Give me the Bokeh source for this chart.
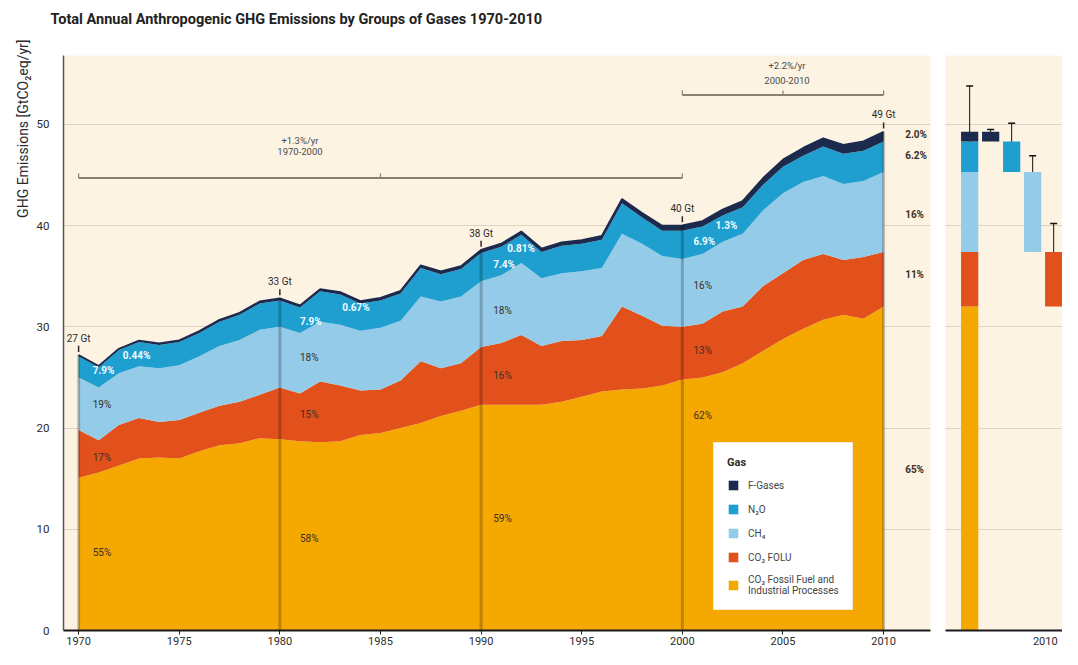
import math
from bokeh.plotting import figure
from bokeh.layouts import row
from bokeh.models import (ColumnDataSource, Legend, LegendItem, Range1d,
                          FixedTicker, Whisker, TeeHead, Title)
from bokeh.embed import file_html
from bokeh.resources import INLINE
from bokeh.core.properties import value

# ---------------- data (GtCO2eq/yr) ----------------
years = list(range(1970, 2011))
ff = [15.1, 15.6, 16.3, 17.0, 17.1, 17.0, 17.7, 18.3, 18.5, 19.0,
      18.9, 18.7, 18.6, 18.7, 19.3, 19.5, 20.0, 20.5, 21.2, 21.7,
      22.3, 22.3, 22.3, 22.3, 22.6, 23.1, 23.6, 23.8, 23.9, 24.2,
      24.8, 25.0, 25.5, 26.4, 27.6, 28.8, 29.8, 30.7, 31.2, 30.8, 32.0]
folu = [4.7, 3.2, 4.0, 4.0, 3.5, 3.8, 3.8, 3.9, 4.1, 4.3,
        5.1, 4.7, 6.0, 5.5, 4.4, 4.3, 4.7, 6.1, 4.7, 4.7,
        5.7, 6.1, 6.9, 5.8, 6.0, 5.6, 5.5, 8.2, 7.2, 5.9,
        5.2, 5.3, 6.0, 5.6, 6.4, 6.5, 6.8, 6.5, 5.4, 6.1, 5.4]
ch4 = [5.2, 5.2, 5.1, 5.1, 5.3, 5.4, 5.6, 5.9, 6.1, 6.4,
       6.0, 6.0, 5.9, 6.0, 5.9, 6.1, 5.9, 6.4, 6.6, 6.6,
       6.5, 6.7, 7.1, 6.7, 6.7, 6.8, 6.7, 7.2, 7.1, 6.9,
       6.7, 6.9, 6.9, 7.2, 7.5, 7.9, 7.7, 7.7, 7.5, 7.5, 7.9]
n2o = [2.1, 2.0, 2.3, 2.4, 2.3, 2.3, 2.3, 2.4, 2.5, 2.6,
       2.6, 2.5, 3.0, 3.0, 2.7, 2.7, 2.7, 2.8, 2.7, 2.7,
       2.8, 2.8, 2.8, 2.6, 2.7, 2.7, 2.8, 3.0, 2.6, 2.5,
       2.8, 2.7, 2.6, 2.6, 2.5, 2.6, 2.6, 2.9, 3.0, 3.0, 3.0]
fgas = [0.12, 0.13, 0.14, 0.15, 0.16, 0.17, 0.18, 0.19, 0.20, 0.21,
        0.22, 0.22, 0.23, 0.24, 0.25, 0.26, 0.27, 0.28, 0.29, 0.30,
        0.31, 0.32, 0.33, 0.34, 0.36, 0.38, 0.40, 0.43, 0.46, 0.49,
        0.52, 0.56, 0.60, 0.64, 0.68, 0.73, 0.78, 0.83, 0.88, 0.92, 0.98]

layer_keys = ["ff", "folu", "ch4", "n2o", "fgas"]
layer_names = ["CO\u2082 Fossil Fuel and\nIndustrial Processes", "CO\u2082 FOLU",
               "CH\u2084", "N\u2082O", "F-Gases"]

marker_years = [1970, 1980, 1990, 2000, 2010]
shares = {
    1970: ["55%", "17%", "19%", "7.9%", "0.44%"],
    1980: ["58%", "15%", "18%", "7.9%", "0.67%"],
    1990: ["59%", "16%", "18%", "7.4%", "0.81%"],
    2000: ["62%", "13%", "16%", "6.9%", "1.3%"],
    2010: ["65%", "11%", "16%", "6.2%", "2.0%"],
}
growth_labels = [("+1.3%/yr", "1970-2000", 1970, 2000),
                 ("+2.2%/yr", "2000-2010", 2000, 2010)]

# 2010 uncertainty bars (Gt)
unc_names = ["Total", "F-Gases", "N\u2082O", "CH\u2084", "CO\u2082 FOLU"]
unc_vals = [4.5, 0.2, 1.8, 1.6, 2.8]

# ---------------- styling ----------------
FONT = "Roboto"
C_FF, C_FOLU, C_CH4, C_N2O, C_F = "#f5a800", "#e2501b", "#93cbe9", "#1e9fd0", "#1c2a4e"
colors = [C_FF, C_FOLU, C_CH4, C_N2O, C_F]
BG = "#fdf3e3"
GRID = "#dcd3c2"
DARK = "#2b2b2b"
YMAX = 56.8

totals = [a + b + c + d + e for a, b, c, d, e in zip(ff, folu, ch4, n2o, fgas)]
src = ColumnDataSource(dict(year=years, ff=ff, folu=folu, ch4=ch4, n2o=n2o, fgas=fgas))

p = figure(width=937, height=649, x_range=Range1d(1969.25, 2012.33),
           y_range=Range1d(0, YMAX), output_backend="svg", toolbar_location=None,
           min_border_left=63, min_border_right=7, min_border_top=55,
           min_border_bottom=19, background_fill_color=BG,
           border_fill_color="white", outline_line_color=None)

# main title, with a blank spacer title between it and the frame
p.title.text = "Total Annual Anthropogenic GHG Emissions by Groups of Gases 1970-2010"
p.title.text_font = FONT
p.title.text_font_size = "14.5px"
p.title.text_font_style = "bold"
p.title.text_color = "#222222"
p.title.align = "left"
p.title.offset = -13
p.add_layout(Title(text=" ", text_font_size="10px"), "above")

# y-axis title placed at the top of the left side
p.add_layout(Title(text="GHG Emissions [GtCO\u2082eq/yr]", align="right", offset=-16,
                   text_font=FONT, text_font_size="14px", text_font_style="normal",
                   text_color=DARK, standoff=5), "left")

renderers = p.varea_stack(layer_keys, x="year", color=colors, source=src)
p.line(x=years, y=totals, line_color=C_F, line_width=1.6)

# decade marker lines
idx = [years.index(y) for y in marker_years]
mtops = [totals[i] for i in idx]
p.segment(x0=marker_years, y0=[0] * 5, x1=marker_years, y1=mtops,
          line_color="black", line_alpha=0.22, line_width=3)
p.segment(x0=marker_years, y0=[t + 0.3 for t in mtops], x1=marker_years,
          y1=[t + 0.9 for t in mtops], line_color=DARK, line_width=1.5)
p.text(x=marker_years, y=[t + 1.1 for t in mtops],
       text=[f"{round(t)} Gt" for t in mtops], text_font=value(FONT),
       text_font_size="10px", text_color=DARK,
       text_align="center", text_baseline="bottom")

# share labels
pos = {
    1970: (1970.7, 1972.2, [7.7, 17.1, 22.3, 25.7, 27.2]),
    1980: (1981.0, 1983.1, [9.1, 21.3, 27.0, 30.5, 31.9]),
    1990: (1990.6, 1991.3, [11.1, 25.2, 31.6, 36.2, 37.7]),
    2000: (2000.55, 2001.65, [21.2, 27.7, 34.1, 38.4, 40.0]),
    2010: (2011.07, 2011.07, [15.9, 35.2, 41.1, 46.9, 49.0]),
}
lx, ly, lt, lc, lw = [], [], [], [], []
for yr in marker_years:
    x0, xf, ys = pos[yr]
    for k in range(5):
        white = (k >= 3 and yr != 2010)
        lx.append(xf if k == 4 else x0)
        ly.append(ys[k])
        lt.append(shares[yr][k])
        lc.append("#f2fbff" if white else "#3a3028")
        lw.append("bold" if (white or yr == 2010) else "normal")
lsrc = ColumnDataSource(dict(x=lx, y=ly, t=lt, c=lc, w=lw))
p.text(x="x", y="y", text="t", text_color="c", text_font_style="w",
       text_font=value(FONT), text_font_size="10px", text_align="left",
       text_baseline="middle", source=lsrc)

# growth brackets
br_y = [44.7, 52.9]
txt_off = [(3.75, 2.65), (2.9, 1.4)]
txt_x = [1981.0, 2005.2]
for (g1, g2, a, b), yb, (o1, o2), tx in zip(growth_labels, br_y, txt_off, txt_x):
    p.line(x=[a, b], y=[yb, yb], line_color="#8a8070", line_width=2)
    p.segment(x0=[a, b, (a + b) / 2], y0=[yb] * 3, x1=[a, b, (a + b) / 2],
              y1=[yb + 0.45] * 3, line_color="#8a8070", line_width=1.2)
    p.text(x=[tx, tx], y=[yb + o1, yb + o2], text=[g1, g2],
           text_font=value(FONT), text_font_size="9.5px", text_color="#4a4a4a",
           text_align="center", text_baseline="middle")

# axes
p.xaxis.ticker = FixedTicker(ticks=list(range(1970, 2011, 5)))
p.xaxis.axis_line_color = "#1a1a1a"
p.xaxis.axis_line_width = 2
p.xaxis.major_tick_out = 4
p.xaxis.major_tick_in = 0
p.xaxis.minor_tick_line_color = None
p.xaxis.major_tick_line_color = "#1a1a1a"
p.xaxis.major_label_text_font = FONT
p.xaxis.major_label_text_font_size = "11px"
p.xaxis.major_label_text_color = DARK
p.xaxis.major_label_standoff = 2

p.yaxis.ticker = FixedTicker(ticks=[0, 10, 20, 30, 40, 50])
p.yaxis.axis_line_color = "#555555"
p.yaxis.axis_line_width = 1.5
p.yaxis.major_tick_out = 0
p.yaxis.major_tick_in = 0
p.yaxis.minor_tick_line_color = None
p.yaxis.major_label_text_font = FONT
p.yaxis.major_label_text_font_size = "11.5px"
p.yaxis.major_label_text_color = DARK
p.yaxis.major_label_standoff = 14

p.ygrid.ticker = FixedTicker(ticks=[10, 20, 30, 40, 50])
p.ygrid.grid_line_color = GRID
p.xgrid.grid_line_color = None

legend = Legend(items=[LegendItem(label=layer_names[k], renderers=[renderers[k]])
                       for k in [4, 3, 2, 1, 0]],
                location=(650, 20), title="Gas")
legend.title_text_font = FONT
legend.title_text_font_style = "bold"
legend.title_text_font_size = "11px"
legend.title_text_color = DARK
legend.title_standoff = 9
legend.label_text_font = FONT
legend.label_text_font_size = "10px"
legend.label_text_color = "#444444"
legend.glyph_width = 12
legend.glyph_height = 12
legend.label_height = 14
legend.label_standoff = 9
legend.spacing = 10
legend.padding = 13
legend.margin = 0
legend.border_line_color = "#e8d6ae"
legend.background_fill_color = "white"
legend.background_fill_alpha = 1.0
p.add_layout(legend)

# ---------------- right panel: 2010 with uncertainties ----------------
q = figure(width=125, height=649, x_range=Range1d(-0.15, 5.42),
           y_range=Range1d(0, YMAX), output_backend="svg", toolbar_location=None,
           min_border_left=8, min_border_right=0, min_border_top=55,
           min_border_bottom=19, background_fill_color=BG,
           border_fill_color="white", outline_line_color=None,
           y_axis_location=None)

last = {k: v[-1] for k, v in zip(layer_keys, [ff, folu, ch4, n2o, fgas])}
bsrc = ColumnDataSource(dict(x=[1], **{k: [last[k]] for k in layer_keys}))
q.vbar_stack(layer_keys, x="x", width=0.82, color=colors, source=bsrc,
             line_color=None)

cum = [0.0]
for k in layer_keys:
    cum.append(cum[-1] + last[k])
single_layer = [4, 3, 2, 1]   # F-gas, N2O, CH4, FOLU
q.vbar(x=[2, 3, 4, 5], bottom=[cum[k] for k in single_layer],
       top=[cum[k + 1] for k in single_layer], width=0.82,
       color=[colors[k] for k in single_layer], line_color=None)

centers = [cum[5]] + [cum[k + 1] for k in single_layer]
wsrc = ColumnDataSource(dict(x=[1, 2, 3, 4, 5],
                             lower=[c - u for c, u in zip(centers, unc_vals)],
                             upper=[c + u for c, u in zip(centers, unc_vals)],
                             name=unc_names))
q.add_layout(Whisker(base="x", lower="lower", upper="upper", source=wsrc,
                     line_color="#111111", line_width=1,
                     upper_head=TeeHead(size=7, line_color="#111111", line_width=1.5),
                     lower_head=TeeHead(size=7, line_color="#111111", line_width=1.5)))

q.xaxis.ticker = FixedTicker(ticks=[4.6])
q.xaxis.major_label_overrides = {4.6: "2010"}
q.xaxis.axis_line_color = "#1a1a1a"
q.xaxis.axis_line_width = 2
q.xaxis.major_tick_out = 4
q.xaxis.major_tick_in = 0
q.xaxis.major_tick_line_color = None
q.xaxis.minor_tick_line_color = None
q.xaxis.major_label_text_font = FONT
q.xaxis.major_label_text_font_size = "11px"
q.xaxis.major_label_text_color = DARK
q.xaxis.major_label_standoff = 2
q.ygrid.ticker = FixedTicker(ticks=[10, 20, 30, 40, 50])
q.ygrid.grid_line_color = GRID
q.xgrid.grid_line_color = None

layout = row(p, q)
open("out.html", "w").write(file_html(layout, INLINE))
